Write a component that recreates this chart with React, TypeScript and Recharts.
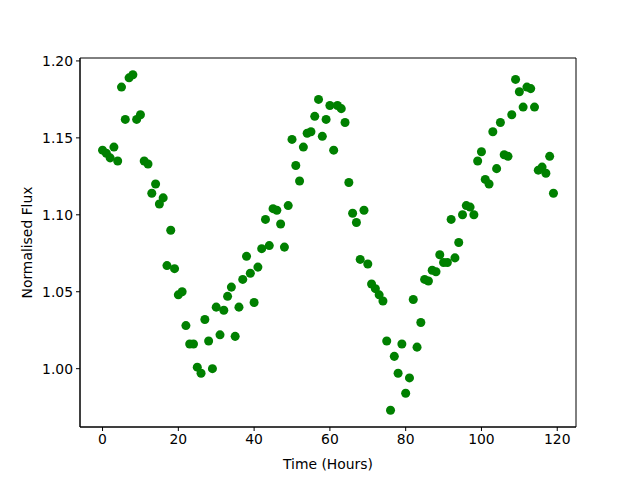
import React from "react";
import {
  ReferenceArea,
  Scatter,
  ScatterChart,
  XAxis,
  YAxis,
  ZAxis,
} from "recharts";

// time in hours, one reading per hour
const hours: number[] = Array.from({ length: 120 }, (_, i) => i);

const flux: number[] = [
  1.142, 1.14, 1.137, 1.144, 1.135, 1.183, 1.162, 1.189, 1.191, 1.162,
  1.165, 1.135, 1.133, 1.114, 1.12, 1.107, 1.111, 1.067, 1.09, 1.065,
  1.048, 1.05, 1.028, 1.016, 1.016, 1.001, 0.997, 1.032, 1.018, 1.0,
  1.04, 1.022, 1.038, 1.047, 1.053, 1.021, 1.04, 1.058, 1.073, 1.062,
  1.043, 1.066, 1.078, 1.097, 1.08, 1.104, 1.103, 1.094, 1.079, 1.106,
  1.149, 1.132, 1.122, 1.144, 1.153, 1.154, 1.164, 1.175, 1.151, 1.162,
  1.171, 1.142, 1.171, 1.169, 1.16, 1.121, 1.101, 1.095, 1.071, 1.103,
  1.068, 1.055, 1.052, 1.048, 1.044, 1.018, 0.973, 1.008, 0.997, 1.016,
  0.984, 0.994, 1.045, 1.014, 1.03, 1.058, 1.057, 1.064, 1.063, 1.074,
  1.069, 1.069, 1.097, 1.072, 1.082, 1.1, 1.106, 1.105, 1.1, 1.135,
  1.141, 1.123, 1.12, 1.154, 1.13, 1.16, 1.139, 1.138, 1.165, 1.188,
  1.18, 1.17, 1.183, 1.182, 1.17, 1.129, 1.131, 1.127, 1.138, 1.114,
];

const xTicks = [0, 20, 40, 60, 80, 100, 120];
const yTicks = [1.0, 1.05, 1.1, 1.15, 1.2];

const data = hours.map((t, i) => ({ t, flux: flux[i] }));

const xDomain: [number, number] = [-5.95, 124.95];
const yDomain: [number, number] = [0.9621, 1.2019];

const font = "DejaVu Sans, sans-serif";
const tickStyle = { fontSize: 13.9, fill: "#000", fontFamily: font };

export default function App() {
  return (
    <div
      style={{
        position: "absolute",
        left: 0,
        top: 0,
        width: 640,
        height: 480,
        background: "#fff",
      }}
    >
      <ScatterChart
        width={640}
        height={480}
        margin={{ top: 58, right: 64, bottom: 0, left: 0 }}
      >
        <XAxis
          type="number"
          dataKey="t"
          domain={xDomain}
          ticks={xTicks}
          allowDataOverflow
          height={53}
          tickSize={4}
          tickMargin={3}
          tick={tickStyle}
          stroke="#000"
          label={{
            value: "Time (Hours)",
            position: "insideBottom",
            offset: 11,
            style: { fontSize: 13.9, fill: "#000", fontFamily: font },
          }}
        />
        <YAxis
          type="number"
          dataKey="flux"
          domain={yDomain}
          ticks={yTicks}
          allowDataOverflow
          width={80}
          tickSize={4}
          tickMargin={3}
          tick={tickStyle}
          tickFormatter={(v: number) => v.toFixed(2)}
          stroke="#000"
          label={{
            value: "Normalised Flux",
            angle: -90,
            position: "insideLeft",
            offset: 27,
            style: {
              fontSize: 13.9,
              fill: "#000",
              fontFamily: font,
              textAnchor: "middle",
            },
          }}
        />
        <ZAxis range={[62, 62]} />
        <ReferenceArea
          x1={xDomain[0]}
          x2={xDomain[1]}
          y1={yDomain[0]}
          y2={yDomain[1]}
          fill="none"
          stroke="#000"
          strokeWidth={1}
          ifOverflow="visible"
        />
        <Scatter data={data} fill="#008000" isAnimationActive={false} />
      </ScatterChart>
    </div>
  );
}
